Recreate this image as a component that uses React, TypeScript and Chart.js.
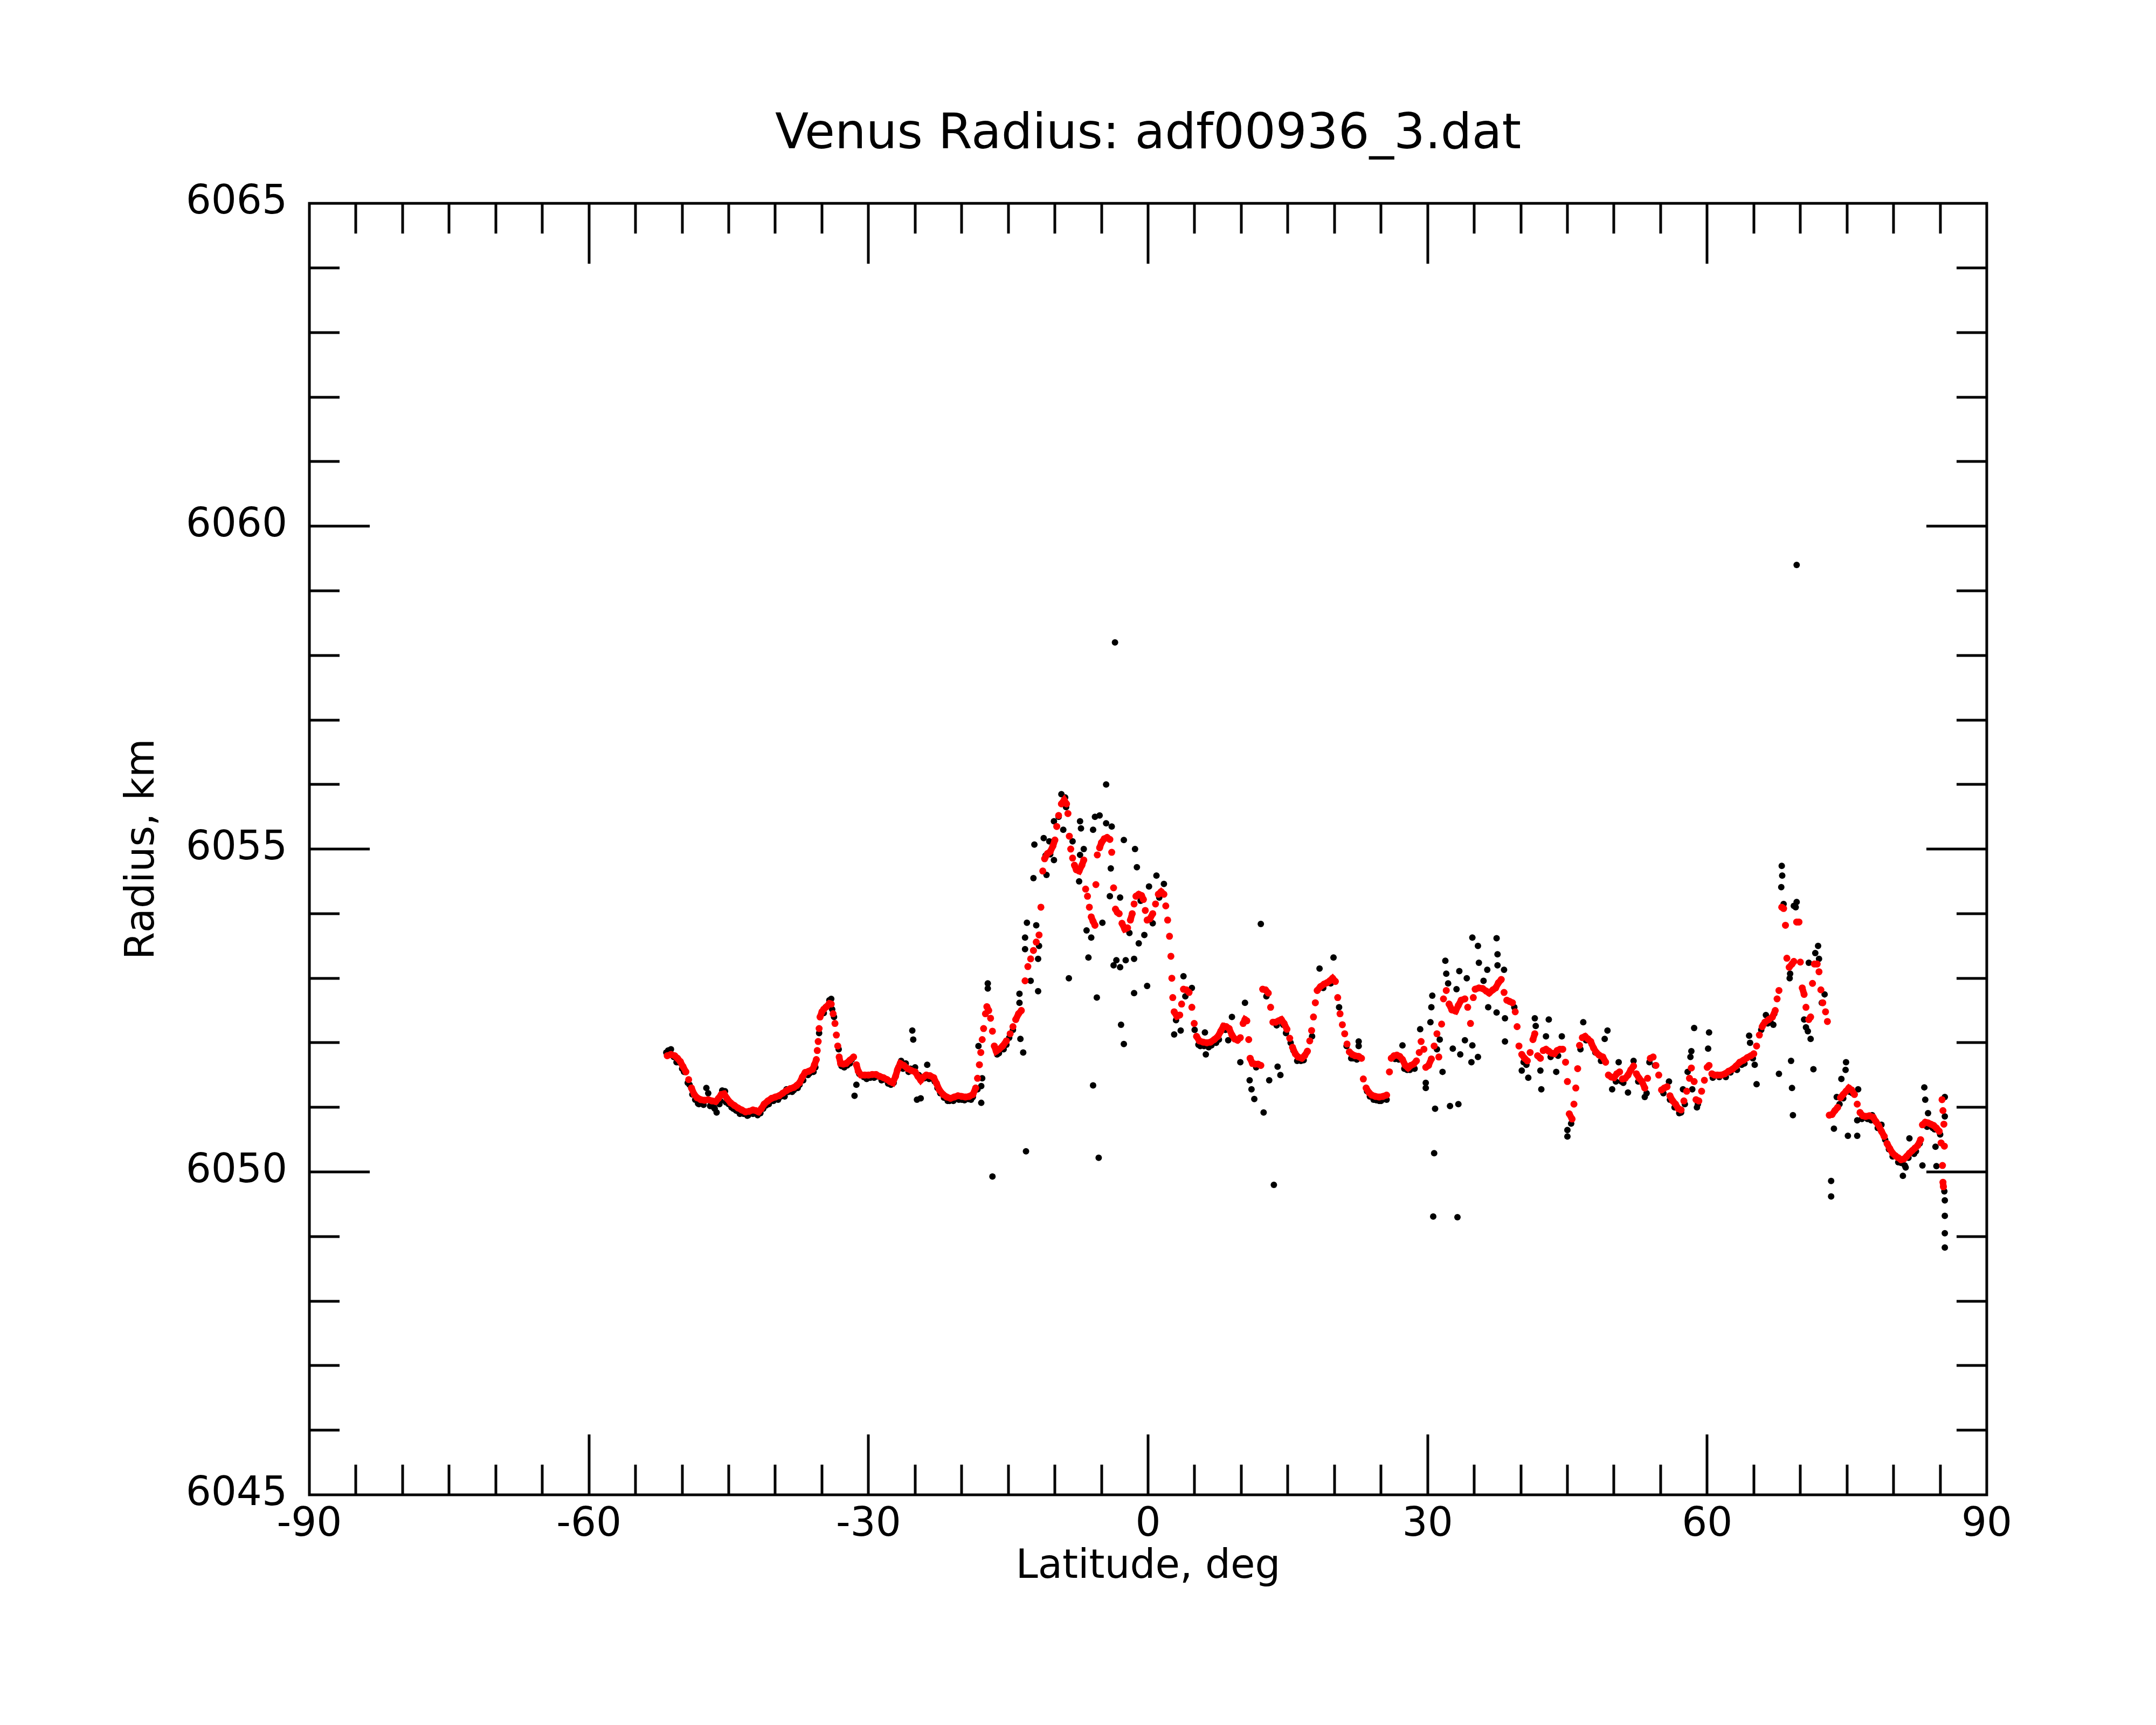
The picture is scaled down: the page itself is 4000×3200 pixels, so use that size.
import React, { useEffect, useRef } from "react";
import { Chart, registerables } from "chart.js";

Chart.register(...registerables);

const titleText = "Venus Radius: adf00936_3.dat";
const xTitle = "Latitude, deg";
const yTitle = "Radius, km";
const xTickLabels = [-90, -60, -30, 0, 30, 60, 90];
const yTickLabels = [6045, 6050, 6055, 6060, 6065];
const xMinorStep = 5;
const yMinorStep = 1;

// smoothed radius (red), [latitude, radius]
const redSegA = [
  [-51.6, 6051.8], [-51.2, 6051.82], [-50.8, 6051.8], [-50.5, 6051.76], [-50.2, 6051.71], [-49.9, 6051.63],
  [-49.6, 6051.55], [-49.3, 6051.43], [-49.0, 6051.3], [-48.7, 6051.2], [-48.4, 6051.15], [-48.0, 6051.12],
  [-47.6, 6051.11], [-47.2, 6051.12], [-46.8, 6051.1], [-46.4, 6051.09], [-46.1, 6051.14], [-45.8, 6051.2],
  [-45.5, 6051.21], [-45.2, 6051.14], [-44.8, 6051.07], [-44.4, 6051.03], [-44.0, 6050.99], [-43.6, 6050.96],
  [-43.2, 6050.93], [-42.8, 6050.94], [-42.4, 6050.96], [-42.1, 6050.95], [-41.8, 6050.93], [-41.5, 6050.98],
  [-41.2, 6051.05], [-40.8, 6051.1], [-40.4, 6051.14], [-40.0, 6051.16], [-39.6, 6051.18], [-39.2, 6051.22],
  [-38.8, 6051.26], [-38.4, 6051.29], [-38.0, 6051.31], [-37.7, 6051.34], [-37.4, 6051.38], [-37.1, 6051.47],
  [-36.8, 6051.54], [-36.4, 6051.56], [-36.0, 6051.59], [-35.8, 6051.66], [-35.6, 6051.74], [-35.5, 6051.88],
  [-35.4, 6052.02], [-35.3, 6052.22], [-35.2, 6052.4], [-35.0, 6052.48], [-34.8, 6052.52], [-34.5, 6052.56],
  [-34.2, 6052.61], [-34.0, 6052.6], [-33.8, 6052.45], [-33.6, 6052.3], [-33.45, 6052.12], [-33.3, 6051.95],
  [-33.15, 6051.78], [-33.0, 6051.68], [-32.7, 6051.67], [-32.4, 6051.68], [-32.0, 6051.73], [-31.6, 6051.78],
  [-31.3, 6051.66], [-31.1, 6051.56], [-30.8, 6051.5], [-30.4, 6051.5], [-30.0, 6051.5], [-29.6, 6051.51],
  [-29.2, 6051.51], [-28.8, 6051.48], [-28.4, 6051.46], [-28.0, 6051.43], [-27.7, 6051.4], [-27.4, 6051.38],
  [-27.1, 6051.48], [-26.9, 6051.58], [-26.6, 6051.68], [-26.2, 6051.65], [-25.8, 6051.6], [-25.4, 6051.57],
  [-25.0, 6051.55], [-24.7, 6051.48], [-24.4, 6051.42], [-24.1, 6051.47], [-23.8, 6051.5], [-23.4, 6051.49],
  [-23.0, 6051.46], [-22.7, 6051.37], [-22.4, 6051.27],
];

const redSegB = [
  [-22.0, 6051.2], [-21.6, 6051.16], [-21.2, 6051.14], [-20.8, 6051.16], [-20.4, 6051.18], [-20.0, 6051.17],
  [-19.6, 6051.16], [-19.2, 6051.17], [-18.8, 6051.2], [-18.5, 6051.3], [-18.3, 6051.45], [-18.1, 6051.66],
  [-17.95, 6051.85], [-17.8, 6052.05], [-17.65, 6052.22], [-17.45, 6052.45], [-17.3, 6052.56], [-17.1, 6052.5],
  [-16.9, 6052.38], [-16.7, 6052.18], [-16.5, 6051.95], [-16.3, 6051.87], [-16.0, 6051.9], [-15.6, 6051.95],
  [-15.2, 6052.03], [-14.8, 6052.14], [-14.5, 6052.25], [-14.2, 6052.36], [-13.9, 6052.45], [-13.6, 6052.5],
  [-13.2, 6052.96], [-12.9, 6053.18], [-12.6, 6053.3], [-12.3, 6053.43], [-12.0, 6053.56], [-11.7, 6053.67],
  [-11.5, 6054.1], [-11.3, 6054.66], [-11.1, 6054.85], [-10.8, 6054.93], [-10.5, 6054.96], [-10.2, 6055.05],
  [-10.0, 6055.14], [-9.8, 6055.35], [-9.6, 6055.52], [-9.3, 6055.7], [-9.0, 6055.76], [-8.75, 6055.7],
  [-8.6, 6055.55], [-8.45, 6055.2], [-8.3, 6055.0], [-8.1, 6054.86], [-7.9, 6054.75], [-7.7, 6054.68],
  [-7.4, 6054.66], [-7.1, 6054.75], [-6.9, 6054.83], [-6.7, 6054.38], [-6.5, 6054.27], [-6.3, 6054.1],
  [-6.1, 6053.95], [-5.9, 6053.88], [-5.7, 6053.82], [-5.6, 6054.45], [-5.45, 6054.91], [-5.2, 6055.02],
  [-5.0, 6055.1], [-4.7, 6055.16], [-4.4, 6055.18], [-4.1, 6055.15], [-3.9, 6054.95], [-3.7, 6054.4],
  [-3.5, 6054.07], [-3.3, 6054.02], [-3.1, 6054.0], [-2.8, 6053.85], [-2.5, 6053.76], [-2.2, 6053.78],
  [-1.9, 6053.9], [-1.7, 6054.0], [-1.5, 6054.15], [-1.3, 6054.27], [-1.0, 6054.3], [-0.7, 6054.28],
  [-0.5, 6054.22], [-0.3, 6054.05], [-0.1, 6053.9], [0.2, 6053.92], [0.5, 6054.0], [0.8, 6054.15],
  [1.1, 6054.3], [1.4, 6054.34], [1.7, 6054.3], [1.9, 6054.12], [2.1, 6053.9], [2.3, 6053.65],
  [2.45, 6053.34], [2.55, 6053.0], [2.65, 6052.7], [2.8, 6052.48], [3.1, 6052.41], [3.4, 6052.43],
  [3.6, 6052.6], [3.8, 6052.83], [4.1, 6052.82], [4.4, 6052.78], [4.7, 6052.55], [4.95, 6052.3],
  [5.2, 6052.1], [5.5, 6052.03], [5.9, 6052.01], [6.3, 6052.0], [6.7, 6052.01], [7.1, 6052.05],
  [7.5, 6052.1], [7.8, 6052.18], [8.1, 6052.26], [8.4, 6052.25], [8.7, 6052.22], [9.0, 6052.12],
];

const redSegC = [
  [9.3, 6052.06], [9.6, 6052.04], [9.9, 6052.08], [10.2, 6052.3], [10.4, 6052.36], [10.6, 6052.34],
  [10.8, 6052.05], [10.95, 6051.76], [11.2, 6051.68], [11.5, 6051.67], [11.8, 6051.67], [12.1, 6051.65],
  [12.3, 6052.83], [12.6, 6052.82], [12.9, 6052.77], [13.15, 6052.55], [13.4, 6052.32], [13.7, 6052.32],
  [14.0, 6052.34], [14.3, 6052.36], [14.6, 6052.3], [14.9, 6052.21], [15.2, 6052.07], [15.5, 6051.93],
  [15.8, 6051.83], [16.1, 6051.78], [16.5, 6051.76], [16.8, 6051.8], [17.1, 6051.87], [17.35, 6052.03],
  [17.55, 6052.19], [17.75, 6052.4], [17.95, 6052.62], [18.15, 6052.81], [18.5, 6052.87], [18.9, 6052.91],
  [19.2, 6052.93], [19.5, 6052.96], [19.8, 6053.0], [20.1, 6052.95], [20.35, 6052.7], [20.6, 6052.45],
  [20.85, 6052.28], [21.1, 6052.14], [21.35, 6051.98], [21.6, 6051.86], [21.9, 6051.82], [22.2, 6051.8],
  [22.6, 6051.79], [22.9, 6051.76], [23.1, 6051.44], [23.4, 6051.3], [23.7, 6051.23], [24.0, 6051.19],
  [24.4, 6051.17], [24.8, 6051.16], [25.2, 6051.17], [25.6, 6051.19], [25.9, 6051.55], [26.1, 6051.76],
  [26.4, 6051.8], [26.7, 6051.81], [27.0, 6051.79], [27.3, 6051.74], [27.6, 6051.65], [27.9, 6051.61],
  [28.2, 6051.65], [28.5, 6051.67], [28.8, 6051.72], [29.1, 6051.85], [29.3, 6052.02], [29.6, 6051.9],
  [29.8, 6051.62], [30.1, 6051.65], [30.4, 6051.75], [30.7, 6051.95], [31.0, 6052.14], [31.2, 6051.78],
  [31.5, 6052.29], [31.7, 6052.68], [32.0, 6052.81], [32.3, 6052.6], [32.6, 6052.51], [33.0, 6052.49],
  [33.3, 6052.58], [33.6, 6052.66], [34.0, 6052.68], [34.3, 6052.55], [34.6, 6052.3], [34.9, 6052.7],
  [35.1, 6052.83], [35.5, 6052.85], [35.9, 6052.84], [36.3, 6052.8], [36.6, 6052.77], [37.0, 6052.82],
  [37.3, 6052.85], [37.6, 6052.93], [37.9, 6052.98], [38.2, 6052.78], [38.5, 6052.66], [38.8, 6052.64],
];

const redSegD = [
  [39.1, 6052.62], [39.4, 6052.48], [39.6, 6052.25], [39.8, 6051.95], [40.1, 6051.82], [40.4, 6051.76],
  [40.7, 6051.72], [41.0, 6051.85], [41.3, 6052.05], [41.5, 6052.14], [41.8, 6051.8], [42.1, 6051.76],
  [42.4, 6051.88], [42.7, 6051.9], [43.0, 6051.87], [43.3, 6051.84], [43.6, 6051.83], [43.9, 6051.88],
  [44.2, 6051.9], [44.5, 6051.9], [44.8, 6051.7], [45.0, 6051.4], [45.2, 6050.9], [45.5, 6050.82],
  [45.7, 6051.05], [45.9, 6051.3], [46.1, 6051.6], [46.3, 6051.96], [46.6, 6052.08], [46.9, 6052.1],
  [47.2, 6052.06], [47.5, 6052.02], [47.8, 6051.92], [48.1, 6051.85], [48.4, 6051.81], [48.8, 6051.78],
  [49.1, 6051.7], [49.4, 6051.5], [49.7, 6051.47], [50.0, 6051.46], [50.3, 6051.52], [50.6, 6051.55],
  [50.9, 6051.44], [51.2, 6051.45], [51.5, 6051.5], [51.8, 6051.58], [52.1, 6051.64], [52.4, 6051.52],
  [52.7, 6051.45], [53.0, 6051.4], [53.3, 6051.3], [53.6, 6051.45], [53.9, 6051.76], [54.2, 6051.78],
  [54.5, 6051.65], [54.8, 6051.5], [55.1, 6051.27], [55.4, 6051.3], [55.7, 6051.32], [56.0, 6051.18],
  [56.3, 6051.1], [56.6, 6051.05], [56.9, 6050.98], [57.2, 6050.96], [57.5, 6051.1], [57.8, 6051.25],
  [58.1, 6051.45], [58.3, 6051.61], [58.6, 6051.4], [58.8, 6051.12], [59.1, 6051.1], [59.4, 6051.25],
  [59.7, 6051.42], [60.0, 6051.62], [60.2, 6051.65], [60.5, 6051.52], [60.8, 6051.5], [61.1, 6051.5],
  [61.5, 6051.5], [61.9, 6051.52], [62.3, 6051.56], [62.7, 6051.59], [63.1, 6051.64], [63.5, 6051.7],
  [63.9, 6051.73], [64.3, 6051.77], [64.7, 6051.8], [65.0, 6051.83], [65.3, 6051.95], [65.6, 6052.12],
  [65.9, 6052.25], [66.2, 6052.32], [66.6, 6052.36], [67.0, 6052.4], [67.3, 6052.5], [67.5, 6052.68],
  [67.7, 6052.81],
];

const redSegE = [
  [68.0, 6054.1], [68.2, 6054.08], [68.4, 6053.82], [68.55, 6053.31], [68.8, 6053.17], [69.1, 6053.22],
  [69.3, 6053.26], [69.6, 6053.87], [69.85, 6053.87], [70.0, 6053.25], [70.2, 6052.85], [70.4, 6052.75],
  [70.6, 6052.55], [70.9, 6052.36], [71.1, 6052.4], [71.3, 6052.92], [71.5, 6053.22], [71.8, 6053.22],
  [72.0, 6053.1], [72.2, 6052.82], [72.4, 6052.62], [72.7, 6052.48], [72.9, 6052.33], [73.1, 6050.88],
  [73.4, 6050.89], [73.7, 6050.95], [74.0, 6051.0], [74.3, 6051.15], [74.6, 6051.2], [74.9, 6051.25],
  [75.2, 6051.3], [75.5, 6051.27], [75.8, 6051.2], [76.1, 6051.05], [76.4, 6050.92], [76.7, 6050.87],
  [77.0, 6050.86], [77.4, 6050.87], [77.8, 6050.85], [78.1, 6050.78], [78.4, 6050.72], [78.7, 6050.63],
  [79.0, 6050.55], [79.3, 6050.44], [79.6, 6050.36], [79.9, 6050.29], [80.2, 6050.25], [80.5, 6050.22],
  [80.8, 6050.19], [81.1, 6050.2], [81.4, 6050.24], [81.7, 6050.29], [82.0, 6050.33], [82.3, 6050.37],
  [82.6, 6050.41], [82.9, 6050.5], [83.1, 6050.73], [83.4, 6050.77], [83.7, 6050.76], [84.0, 6050.74],
  [84.3, 6050.72], [84.6, 6050.68], [84.9, 6050.63], [85.1, 6050.45], [85.2, 6051.12], [85.3, 6050.95],
  [85.4, 6050.74], [85.45, 6050.4], [85.25, 6050.1], [85.3, 6049.84], [85.35, 6049.77],
];

// raw radius samples (black), [latitude, radius]
const blackSegA = [
  [-51.7, 6051.85], [-51.5, 6051.88], [-51.2, 6051.9], [-50.9, 6051.78], [-50.4, 6051.7], [-49.8, 6051.55],
  [-49.2, 6051.35], [-48.6, 6051.12], [-48.2, 6051.05], [-47.8, 6051.08], [-47.4, 6051.3], [-47.2, 6051.22],
  [-46.9, 6051.04], [-46.5, 6050.98], [-46.3, 6050.92], [-46.0, 6051.05], [-45.7, 6051.26], [-45.4, 6051.25],
  [-45.0, 6051.05], [-44.5, 6050.98], [-44.0, 6050.94], [-43.4, 6050.9], [-43.0, 6050.87], [-42.6, 6050.92],
  [-42.2, 6050.93], [-41.6, 6050.91], [-41.0, 6051.03], [-40.5, 6051.1], [-40.0, 6051.13], [-39.4, 6051.17],
  [-38.8, 6051.28], [-38.6, 6051.24], [-38.0, 6051.27], [-37.4, 6051.35], [-36.9, 6051.5], [-36.3, 6051.53],
  [-35.7, 6051.62], [-35.3, 6052.15], [-35.0, 6052.45], [-34.6, 6052.55], [-34.2, 6052.66], [-34.0, 6052.68],
  [-33.7, 6052.4], [-33.2, 6051.9], [-32.9, 6051.64], [-32.3, 6051.65], [-31.8, 6051.74], [-31.5, 6051.18],
  [-31.3, 6051.35], [-31.0, 6051.52], [-30.5, 6051.47], [-29.8, 6051.46], [-29.0, 6051.48], [-28.2, 6051.43],
  [-27.6, 6051.35], [-27.3, 6051.38], [-26.8, 6051.62], [-26.5, 6051.72], [-26.0, 6051.68], [-25.5, 6051.6],
  [-25.3, 6052.19], [-25.2, 6052.05], [-25.0, 6051.62], [-24.8, 6051.12], [-24.6, 6051.5], [-24.4, 6051.14],
  [-24.0, 6051.45], [-23.7, 6051.66], [-23.3, 6051.45], [-22.9, 6051.4], [-22.3, 6051.22],
];

const blackSegB = [
  [-21.9, 6051.15], [-21.3, 6051.1], [-20.7, 6051.13], [-20.0, 6051.12], [-19.3, 6051.13], [-18.8, 6051.16],
  [-18.3, 6051.28], [-18.2, 6051.95], [-17.9, 6051.33], [-17.9, 6051.07], [-17.8, 6051.45], [-17.2, 6052.92],
  [-17.2, 6052.84], [-16.7, 6049.93], [-16.2, 6051.82], [-15.5, 6051.9], [-14.9, 6052.08], [-13.8, 6052.76],
  [-13.8, 6052.62], [-13.7, 6052.06], [-13.4, 6051.85], [-13.1, 6050.32], [-13.2, 6053.45], [-13.2, 6053.63],
  [-13.0, 6053.86], [-12.6, 6052.96], [-12.0, 6053.82], [-11.8, 6053.3], [-11.8, 6052.8], [-11.7, 6053.5],
  [-12.3, 6054.55], [-12.2, 6055.07], [-11.2, 6055.17], [-10.9, 6054.6], [-10.6, 6055.12], [-10.1, 6054.83],
  [-10.1, 6055.43], [-9.3, 6055.85], [-9.1, 6055.3], [-8.9, 6055.8], [-8.5, 6053.0], [-8.1, 6055.12],
  [-7.3, 6055.43], [-7.2, 6055.32], [-7.3, 6054.91], [-7.4, 6054.5], [-6.9, 6055.0], [-6.6, 6053.74],
  [-6.4, 6053.32], [-6.1, 6053.63], [-5.9, 6051.34], [-5.9, 6055.3], [-5.7, 6055.5], [-5.5, 6052.7],
  [-5.3, 6050.22], [-5.2, 6055.52], [-4.9, 6053.86], [-4.5, 6056.0], [-4.5, 6055.4], [-4.1, 6054.27],
  [-4.0, 6054.7], [-3.9, 6055.35], [-3.7, 6053.2], [-3.4, 6053.28], [-3.0, 6053.17], [-3.0, 6054.25],
  [-2.9, 6052.28], [-2.6, 6051.98], [-2.6, 6055.14], [-2.4, 6053.28], [-1.5, 6053.3], [-1.5, 6052.77],
  [-1.4, 6055.0], [-1.2, 6054.72], [-1.0, 6053.54], [-0.4, 6053.67], [-0.1, 6052.88], [0.1, 6054.42],
  [0.9, 6054.59], [1.7, 6054.46], [3.8, 6053.03], [4.7, 6052.85], [2.8, 6052.13], [3.5, 6052.19],
  [6.1, 6052.16], [6.2, 6051.82], [8.6, 6052.04], [9.0, 6052.4], [-3.55, 6058.2],
  [-11.0, 6054.9], [-10.5, 6054.92], [-9.6, 6055.5], [-8.8, 6055.65], [-2.0, 6053.7], [-0.8, 6054.2],
  [0.5, 6053.85], [1.2, 6054.25], [3.0, 6052.35], [4.0, 6052.72], [5.0, 6052.2], [5.6, 6051.95],
  [6.5, 6051.93], [7.3, 6052.0], [7.9, 6052.2],
];

const blackSegC = [
  [12.1, 6053.84], [13.5, 6049.8], [12.4, 6050.92], [11.4, 6051.13], [11.1, 6051.28], [10.9, 6051.42],
  [10.4, 6052.62], [9.9, 6051.7], [13.0, 6051.42], [13.9, 6051.63], [14.2, 6051.5], [19.9, 6053.32],
  [18.4, 6053.15], [22.6, 6052.02], [22.6, 6051.95], [27.3, 6051.96], [29.2, 6052.21], [29.8, 6051.38],
  [29.8, 6051.3], [30.3, 6052.32], [30.5, 6052.73], [30.4, 6052.55], [30.8, 6050.98], [30.7, 6050.29],
  [30.6, 6049.31], [33.2, 6049.3], [32.4, 6051.02], [33.3, 6051.05], [32.7, 6051.91], [31.9, 6053.27],
  [32.0, 6053.07], [32.2, 6052.92], [33.1, 6052.83], [33.4, 6053.11], [33.5, 6051.82], [34.0, 6052.04],
  [34.2, 6053.0], [34.7, 6051.7], [34.8, 6051.96], [34.8, 6053.63], [35.4, 6053.5], [35.5, 6053.24],
  [35.4, 6051.78], [36.0, 6052.96], [36.4, 6053.13], [36.5, 6052.55], [37.4, 6053.62], [37.5, 6053.37],
  [37.5, 6053.2], [37.4, 6052.47], [38.3, 6052.38], [38.3, 6052.02], [38.2, 6053.13],
  [11.6, 6051.62], [12.7, 6052.72], [14.5, 6052.28], [15.6, 6051.88], [16.4, 6051.72], [17.6, 6052.1],
  [18.8, 6052.85], [19.6, 6052.92], [20.5, 6052.55], [21.3, 6051.95], [22.0, 6051.76], [23.5, 6051.25],
  [24.2, 6051.12], [24.8, 6051.1], [25.4, 6051.13], [26.5, 6051.75], [27.8, 6051.58], [28.6, 6051.6],
  [31.0, 6051.9], [31.6, 6051.55], [31.3, 6052.05],
];

const blackSegD = [
  [41.5, 6052.38], [41.6, 6052.26], [43.0, 6052.36], [42.2, 6051.28], [42.1, 6051.57], [40.8, 6051.46],
  [40.1, 6051.57], [40.5, 6051.72], [42.7, 6052.1], [43.8, 6051.55], [44.4, 6052.1], [45.0, 6050.55],
  [45.0, 6050.65], [46.7, 6052.32], [49.3, 6052.19], [49.0, 6052.06], [49.8, 6051.28], [50.5, 6051.7],
  [51.5, 6051.23], [52.1, 6051.72], [53.3, 6051.16], [55.9, 6051.4], [57.4, 6051.28], [57.0, 6050.91],
  [58.6, 6052.23], [58.3, 6051.87], [58.2, 6051.78], [57.9, 6051.55], [58.4, 6051.28], [60.2, 6052.16],
  [60.1, 6051.91], [58.9, 6051.0], [64.5, 6052.11], [64.6, 6052.0], [65.1, 6051.66], [65.3, 6051.36],
  [66.3, 6052.43], [67.1, 6052.28], [67.7, 6051.52],
  [39.3, 6052.55], [40.3, 6051.7], [44.0, 6051.8], [45.4, 6050.75], [46.4, 6051.9], [47.6, 6051.98],
  [48.6, 6051.72], [50.2, 6051.4], [51.0, 6051.38], [52.6, 6051.4], [53.5, 6051.22], [54.4, 6051.65],
  [55.3, 6051.22], [56.5, 6051.0], [57.2, 6050.92], [59.0, 6051.05], [61.3, 6051.47], [62.5, 6051.54],
  [63.7, 6051.66], [65.8, 6052.2], [66.8, 6052.32],
];

const blackSegE = [
  [68.0, 6054.74], [68.05, 6054.59], [67.95, 6054.41], [68.2, 6054.15], [68.9, 6053.07], [68.85, 6053.0],
  [69.0, 6051.72], [69.1, 6051.3], [69.2, 6050.88], [69.3, 6054.12], [69.6, 6054.18], [69.5, 6054.1],
  [70.4, 6052.36], [70.6, 6052.24], [70.8, 6052.18], [71.1, 6052.06], [70.9, 6053.24], [71.4, 6051.59],
  [71.6, 6053.39], [71.9, 6053.5], [72.0, 6053.3], [72.6, 6052.75], [73.3, 6049.86], [73.3, 6049.62],
  [73.6, 6050.67], [73.9, 6051.16], [74.4, 6051.44], [74.9, 6051.7], [74.85, 6051.58], [75.1, 6050.56],
  [76.1, 6050.56], [76.1, 6050.8], [76.2, 6051.28], [77.7, 6050.88], [78.7, 6050.73], [81.0, 6049.94],
  [81.3, 6050.07], [81.7, 6050.52], [83.1, 6050.1], [83.3, 6051.31], [83.4, 6051.12], [83.7, 6050.91],
  [84.5, 6050.39], [84.6, 6050.09], [85.5, 6051.16], [85.5, 6050.86], [85.5, 6049.56], [85.5, 6049.32],
  [85.5, 6049.05], [85.5, 6048.83], [85.45, 6049.7], [69.6, 6059.4],
  [66.0, 6052.28], [67.2, 6052.45], [74.2, 6051.05], [75.6, 6051.22], [77.2, 6050.82], [79.5, 6050.35],
  [80.5, 6050.15], [81.2, 6050.1], [82.4, 6050.32], [84.2, 6050.68], [72.3, 6052.62],
];

// raw samples lying just beneath the smoothed curve
const blackShadow = [
  [-50.6, 6051.7], [-50.0, 6051.6], [-49.4, 6051.38], [-48.9, 6051.2], [-48.3, 6051.06], [-47.7, 6051.04],
  [-47.0, 6051.02], [-46.6, 6051.0], [-45.9, 6051.1], [-45.3, 6051.08], [-44.7, 6051.0], [-44.2, 6050.95],
  [-43.8, 6050.9], [-42.9, 6050.88], [-42.4, 6050.9], [-41.9, 6050.88], [-41.3, 6050.98], [-40.7, 6051.05],
  [-40.2, 6051.1], [-39.7, 6051.12], [-39.0, 6051.17], [-38.2, 6051.24], [-37.6, 6051.3], [-37.0, 6051.42],
  [-36.5, 6051.5], [-35.9, 6051.55], [-34.8, 6052.46], [-33.9, 6052.52], [-32.6, 6051.62], [-32.0, 6051.68],
  [-30.2, 6051.44], [-29.4, 6051.46], [-28.6, 6051.42], [-27.9, 6051.37], [-26.3, 6051.6], [-25.7, 6051.55],
  [-23.5, 6051.44], [-22.6, 6051.3], [-21.5, 6051.1], [-20.9, 6051.1], [-20.3, 6051.12], [-19.7, 6051.11],
  [-19.0, 6051.12], [-16.0, 6051.84], [-15.2, 6051.97], [-14.5, 6052.2], [5.4, 6051.97], [6.0, 6051.95],
  [6.8, 6051.96], [7.6, 6052.05], [8.3, 6052.2], [13.8, 6052.27], [14.8, 6052.15], [15.3, 6052.0],
  [16.0, 6051.72], [16.7, 6051.73], [21.8, 6051.76], [22.4, 6051.74], [23.8, 6051.17], [24.5, 6051.11],
  [25.0, 6051.1], [25.6, 6051.12], [26.9, 6051.74], [27.5, 6051.6], [28.1, 6051.58], [40.6, 6051.66],
  [43.2, 6051.78], [47.0, 6052.04], [48.0, 6051.85], [50.8, 6051.4], [53.8, 6051.7], [56.0, 6051.12],
  [57.6, 6051.05], [60.6, 6051.46], [62.0, 6051.47], [63.2, 6051.58], [64.0, 6051.68], [64.9, 6051.76],
  [66.5, 6052.3], [74.6, 6051.14], [75.3, 6051.24], [76.6, 6050.82], [77.6, 6050.8], [78.3, 6050.68],
  [79.1, 6050.5], [79.9, 6050.24], [80.8, 6050.14], [81.6, 6050.22], [82.2, 6050.28], [82.8, 6050.44],
  [83.6, 6050.7], [84.4, 6050.66], [85.0, 6050.58],
];

const FONT = "'DejaVu Sans', 'Liberation Sans', sans-serif";

const toXY = (segs: number[][][]) =>
  segs.flat().map(([x, y]) => ({ x, y }));

const RED = "#ff0000";
const HIDDEN = "rgba(0,0,0,0)";

const frameTicks = {
  id: "frameTicks",
  afterDatasetsDraw(chart: any) {
    const { ctx, chartArea: a, scales } = chart;
    const xs = scales.x;
    const ys = scales.y;
    const major = 112;
    const minor = 56;
    ctx.save();
    ctx.strokeStyle = "#000";
    ctx.lineWidth = 5;
    ctx.lineCap = "butt";
    ctx.beginPath();
    for (let v = xs.min; v <= xs.max + 1e-9; v += xMinorStep) {
      if (v === xs.min || v === xs.max) continue;
      const px = Math.round(xs.getPixelForValue(v));
      const len = xTickLabels.includes(v) ? major : minor;
      ctx.moveTo(px, a.bottom);
      ctx.lineTo(px, a.bottom - len);
      ctx.moveTo(px, a.top);
      ctx.lineTo(px, a.top + len);
    }
    for (let v = ys.min; v <= ys.max + 1e-9; v += yMinorStep) {
      if (v === ys.min || v === ys.max) continue;
      const py = Math.round(ys.getPixelForValue(v));
      const len = yTickLabels.includes(v) ? major : minor;
      ctx.moveTo(a.left, py);
      ctx.lineTo(a.left + len, py);
      ctx.moveTo(a.right, py);
      ctx.lineTo(a.right - len, py);
    }
    ctx.stroke();
    ctx.strokeRect(a.left, a.top, a.right - a.left, a.bottom - a.top);
    ctx.restore();
  },
};

export default function App() {
  const ref = useRef<HTMLCanvasElement | null>(null);

  useEffect(() => {
    if (!ref.current) return;
    const chart = new Chart(ref.current, {
      type: "scatter",
      data: {
        datasets: [
          {
            label: "smoothed",
            data: toXY([redSegA, redSegB, redSegC, redSegD, redSegE]),
            showLine: true,
            borderColor: RED,
            borderWidth: 12,
            borderCapStyle: "round",
            segment: {
              borderColor: (c: any) =>
                Math.abs(c.p1.y - c.p0.y) > 13 || Math.abs(c.p1.x - c.p0.x) > 16 ? HIDDEN : RED,
            },
            backgroundColor: RED,
            pointBorderWidth: 0,
            pointRadius: 6.5,
            pointHoverRadius: 6.5,
          },
          {
            label: "raw",
            data: toXY([blackSegA, blackSegB, blackSegC, blackSegD, blackSegE, blackShadow]),
            backgroundColor: "#000000",
            borderColor: "#000000",
            pointBorderWidth: 0,
            pointRadius: 6,
            pointHoverRadius: 6,
          },
        ],
      },
      options: {
        animation: false,
        responsive: false,
        devicePixelRatio: 1,
        events: [],
        layout: { padding: { left: 0, right: 314, top: 0, bottom: 0 } },
        plugins: {
          legend: { display: false },
          tooltip: { enabled: false },
          title: {
            display: true,
            text: titleText,
            fullSize: false,
            color: "#000",
            font: { family: FONT, size: 91, weight: "normal" },
            padding: { top: 197, bottom: 71 },
          },
        },
        scales: {
          x: {
            type: "linear",
            position: "bottom",
            min: -90,
            max: 90,
            grid: { display: false, drawTicks: false },
            border: { display: false },
            afterBuildTicks: (s: any) => {
              s.ticks = xTickLabels.map((v) => ({ value: v }));
            },
            afterFit: (s: any) => {
              s.height = 427;
            },
            ticks: {
              color: "#000",
              font: { family: FONT, size: 74 },
              padding: 12,
              maxRotation: 0,
              autoSkip: false,
              callback: (v: any) => String(v),
            },
            title: {
              display: true,
              text: xTitle,
              color: "#000",
              font: { family: FONT, size: 74 },
              padding: { top: 0, bottom: 248 },
            },
          },
          y: {
            type: "linear",
            position: "left",
            min: 6045,
            max: 6065,
            grid: { display: false, drawTicks: false },
            border: { display: false },
            afterBuildTicks: (s: any) => {
              s.ticks = yTickLabels.map((v) => ({ value: v }));
            },
            afterFit: (s: any) => {
              s.width = 574;
            },
            ticks: {
              color: "#000",
              font: { family: FONT, size: 74 },
              padding: 41,
              autoSkip: false,
              callback: (v: any) => String(v),
            },
            title: {
              display: true,
              text: yTitle,
              color: "#000",
              font: { family: FONT, size: 74 },
              padding: { top: 221, bottom: 0 },
            },
          },
        },
      },
      plugins: [frameTicks],
    });
    return () => chart.destroy();
  }, []);

  return (
    <div style={{ position: "absolute", left: 0, top: 0, width: 4000, height: 3200, background: "#fff" }}>
      <canvas ref={ref} width={4000} height={3200} style={{ width: 4000, height: 3200, display: "block" }} />
    </div>
  );
}
